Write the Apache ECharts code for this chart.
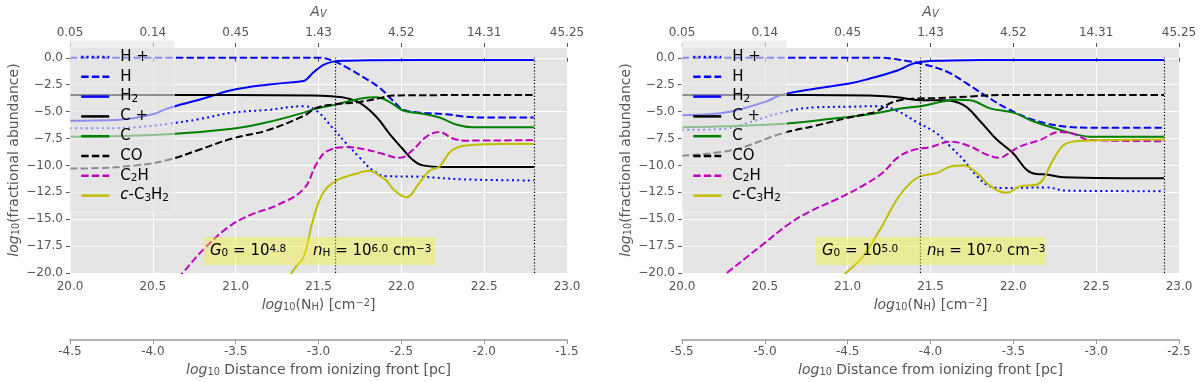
<!DOCTYPE html>
<html>
<head>
<meta charset="utf-8">
<script src="https://cdn.jsdelivr.net/npm/echarts/dist/echarts.min.js"></script>
<style>
html,body{margin:0;padding:0;background:#fff}
#chart{width:1200px;height:382px}
</style>
</head>
<body>
<div id="chart"></div>
<script>
// tick labels
var avLabels = ["0.05", "0.14", "0.45", "1.43", "4.52", "14.31", "45.25"];
var distRangeL = [-4.5, -1.5];
var distRangeR = [-5.5, -2.5];
var edgesL = [21.6, 22.8];
var edgesR = [21.44, 22.91];

// left panel : G0 = 10^4.8, nH = 10^6.0
var hPlusL = [[20,-6.55],[20.2,-6.55],[20.4,-6.45],[20.59,-6.15],[20.78,-5.7],[20.98,-5.1],[21.19,-4.85],[21.41,-4.5],[21.49,-4.95],[21.59,-6.6],[21.67,-8.0],[21.75,-9.3],[21.83,-10.5],[21.91,-11.0],[22.11,-11.05],[22.37,-11.3],[22.8,-11.4]];
var hL = [[20,0],[21.3,0],[21.51,0],[21.59,-0.3],[21.67,-0.9],[21.77,-1.8],[21.87,-2.8],[21.95,-4.0],[22.01,-4.8],[22.11,-5.1],[22.27,-5.25],[22.37,-5.45],[22.47,-5.55],[22.8,-5.55]];
var h2L = [[20,-5.85],[20.3,-5.75],[20.5,-5.25],[20.59,-4.7],[20.78,-3.9],[20.98,-3.0],[21.19,-2.5],[21.39,-2.2],[21.42,-2.1],[21.47,-1.35],[21.53,-0.66],[21.59,-0.36],[21.67,-0.27],[21.8,-0.22],[22.8,-0.2]];
var cPlusL = [[20,-3.45],[21.47,-3.5],[21.59,-3.6],[21.67,-3.75],[21.75,-4.2],[21.85,-5.5],[21.93,-7.1],[22.01,-8.5],[22.07,-9.5],[22.13,-10.0],[22.27,-10.15],[22.8,-10.15]];
var cL = [[20,-7.35],[20.59,-7.1],[20.98,-6.6],[21.19,-6.0],[21.41,-5.1],[21.49,-4.7],[21.59,-4.4],[21.75,-3.8],[21.85,-3.68],[21.95,-4.3],[22.01,-4.9],[22.13,-5.2],[22.23,-5.55],[22.33,-6.2],[22.43,-6.45],[22.8,-6.45]];
var coL = [[20,-10.3],[20.18,-10.25],[20.4,-10.0],[20.59,-9.5],[20.78,-8.55],[20.98,-7.5],[21.19,-6.75],[21.41,-5.4],[21.49,-4.65],[21.59,-4.35],[21.75,-4.1],[21.87,-3.75],[21.95,-3.5],[22.8,-3.45]];
var c2hL = [[20.65,-20.5],[20.68,-20],[20.8,-17.9],[20.95,-15.8],[21.09,-14.6],[21.25,-13.7],[21.41,-12.2],[21.49,-9.8],[21.55,-8.7],[21.67,-8.3],[21.79,-8.55],[21.87,-8.85],[21.99,-9.3],[22.07,-8.55],[22.15,-7.35],[22.23,-6.9],[22.31,-7.5],[22.39,-7.7],[22.8,-7.65]];
var c3h2L = [[21.3,-21],[21.35,-19.7],[21.41,-18.5],[21.47,-14.9],[21.53,-12.5],[21.61,-11.4],[21.71,-10.85],[21.81,-10.5],[21.87,-11.0],[21.91,-11.4],[21.95,-12.2],[22.03,-12.95],[22.11,-11.6],[22.17,-10.5],[22.23,-10.1],[22.31,-8.55],[22.43,-8.1],[22.8,-8.0]];

// right panel : G0 = 10^5.0, nH = 10^7.0
var hPlusR = [[20,-6.7],[20.2,-6.65],[20.31,-6.45],[20.41,-6.0],[20.6,-5.1],[20.81,-4.6],[21.01,-4.55],[21.19,-4.5],[21.3,-4.95],[21.42,-6.0],[21.54,-7.05],[21.62,-8.25],[21.7,-9.5],[21.78,-11.0],[21.86,-11.95],[21.94,-12.1],[22.2,-12.05],[22.32,-12.35],[22.91,-12.4]];
var hR = [[20,0],[21.19,0],[21.36,-0.3],[21.45,-0.57],[21.6,-1.3],[21.72,-2.4],[21.84,-3.6],[21.96,-4.7],[22.08,-5.55],[22.2,-6.1],[22.32,-6.4],[22.48,-6.5],[22.91,-6.5]];
var h2R = [[20,-5.35],[20.2,-5.2],[20.31,-4.95],[20.51,-4.05],[20.6,-3.45],[20.81,-2.85],[21.01,-2.4],[21.13,-1.95],[21.3,-1.18],[21.39,-0.57],[21.45,-0.36],[21.58,-0.27],[21.8,-0.2],[22.91,-0.2]];
var cPlusR = [[20,-3.45],[21.13,-3.5],[21.3,-3.68],[21.44,-3.95],[21.58,-3.95],[21.7,-4.4],[21.8,-5.9],[21.9,-7.6],[22.0,-8.9],[22.08,-10.4],[22.14,-10.8],[22.2,-10.85],[22.3,-11.1],[22.91,-11.2]];
var cR = [[20,-6.45],[20.6,-6.15],[20.94,-5.6],[21.13,-5.25],[21.33,-4.7],[21.44,-4.5],[21.58,-4.05],[21.66,-3.9],[21.74,-3.95],[21.86,-4.7],[22.0,-5.1],[22.12,-5.9],[22.24,-6.5],[22.36,-7.05],[22.48,-7.35],[22.91,-7.35]];
var coR = [[20,-9.1],[20.31,-8.55],[20.6,-7.05],[20.81,-6.3],[21.01,-5.55],[21.12,-5.2],[21.18,-4.95],[21.24,-4.35],[21.3,-4.0],[21.39,-3.8],[21.54,-3.75],[21.74,-3.6],[21.94,-3.45],[22.91,-3.45]];
var c2hR = [[20.22,-20.6],[20.27,-20],[20.5,-17.2],[20.65,-15.4],[20.77,-14.3],[20.94,-13.1],[21.09,-11.9],[21.21,-10.7],[21.3,-9.3],[21.39,-8.6],[21.5,-8.3],[21.62,-7.8],[21.74,-8.25],[21.84,-9.0],[21.92,-9.3],[21.96,-9.0],[22.04,-8.25],[22.16,-7.65],[22.28,-6.9],[22.36,-7.05],[22.46,-7.65],[22.91,-7.75]];
var c3h2R = [[20.97,-20.3],[20.99,-20],[21.09,-18.5],[21.19,-16.1],[21.3,-13.1],[21.38,-11.6],[21.44,-11.0],[21.54,-10.7],[21.62,-10.1],[21.7,-10.0],[21.78,-10.7],[21.86,-11.9],[21.96,-12.55],[22.04,-11.95],[22.14,-11.8],[22.18,-11.3],[22.24,-9.5],[22.32,-7.96],[22.44,-7.7],[22.91,-7.6]];

var FONT = "DejaVu Sans";
var GREY = "#555555";
var DOT = [2, 3.3];
var DASH = [7.4, 3.2];

var names = ["H +", "H", "H2", "C +", "C", "CO", "C2H", "c-C3H2"];
var legendText = {
  "H +": "H +", "H": "H", "H2": "H{s|2}", "C +": "C +", "C": "C", "CO": "CO",
  "C2H": "C{s|2}H", "c-C3H2": "{i|c}-C{s|3}H{s|2}"
};
var styles = [
  ["#0000FF", DOT], ["#0000FF", DASH], ["#0000FF", "solid"], ["#000000", "solid"],
  ["#008000", "solid"], ["#000000", DASH], ["#BF00BF", DASH], ["#BFBF00", "solid"]
];
var dataL = [hPlusL, hL, h2L, cPlusL, cL, coL, c2hL, c3h2L];
var dataR = [hPlusR, hR, h2R, cPlusR, cR, coR, c2hR, c3h2R];

function rich(size, color) {
  return {
    s: {fontSize: size * 0.7, lineHeight: size * 0.7, verticalAlign: "bottom", fontFamily: FONT, color: color},
    si: {fontSize: size * 0.7, lineHeight: size * 0.7, verticalAlign: "bottom", fontFamily: FONT, fontStyle: "italic", color: color},
    i: {fontSize: size, fontStyle: "italic", fontFamily: FONT, color: color},
    p: {fontSize: size * 0.7, lineHeight: size * 0.7, verticalAlign: "top", fontFamily: FONT, color: color}
  };
}

var grids = [
  {left: 70, width: 497, top: 41, height: 232, show: true, backgroundColor: "#E5E5E5", borderWidth: 0},
  {left: 682, width: 497, top: 41, height: 232, show: true, backgroundColor: "#E5E5E5", borderWidth: 0}
];

var xAxes = [], yAxes = [], series = [], legends = [];
[0, 1].forEach(function (g) {
  var dist = g == 0 ? distRangeL : distRangeR;
  xAxes.push({
    gridIndex: g, type: "value", min: 20, max: 23, interval: 0.5,
    axisLine: {show: false},
    axisTick: {show: true, length: 4, lineStyle: {color: GREY}},
    axisLabel: {color: GREY, fontSize: 12, fontFamily: FONT, margin: 8, formatter: function (v) { return v.toFixed(1); }},
    splitLine: {show: true, lineStyle: {color: "#FFFFFF", width: 1}},
    name: "{i|log}{s|10}(N{s|H}) [cm{p|\u22122}]", nameLocation: "middle", nameGap: 25,
    nameTextStyle: {color: GREY, fontSize: 14, fontFamily: FONT, rich: rich(14, GREY)}
  });
  xAxes.push({
    gridIndex: g, type: "value", position: "top", min: 20, max: 23, interval: 0.5,
    axisLine: {show: false},
    axisTick: {show: true, length: 4, lineStyle: {color: GREY}},
    axisLabel: {color: GREY, fontSize: 12, fontFamily: FONT, margin: 8, formatter: function (v) { return avLabels[Math.round((v - 20) / 0.5)]; }},
    splitLine: {show: false},
    name: "{i|A}{si|V}", nameLocation: "middle", nameGap: 28,
    nameTextStyle: {color: GREY, fontSize: 14, fontFamily: FONT, rich: rich(14, GREY)}
  });
  xAxes.push({
    gridIndex: g, type: "value", position: "bottom", offset: 67, min: dist[0], max: dist[1], interval: 0.5,
    axisLine: {show: true, lineStyle: {color: "#999999", width: 1.5}},
    axisTick: {show: true, length: 4, lineStyle: {color: "#999999"}},
    axisLabel: {color: GREY, fontSize: 12, fontFamily: FONT, margin: 6, formatter: function (v) { return v.toFixed(1); }},
    splitLine: {show: false},
    name: "{i|log}{s|10} Distance from ionizing front [pc]", nameLocation: "middle", nameGap: 23,
    nameTextStyle: {color: GREY, fontSize: 14, fontFamily: FONT, rich: rich(14, GREY)}
  });
  yAxes.push({
    gridIndex: g, type: "value", min: -20, max: 1, interval: 2.5,
    axisLine: {show: false},
    axisTick: {show: true, length: 4, lineStyle: {color: GREY}},
    axisLabel: {
      color: GREY, fontSize: 12, fontFamily: FONT, margin: 7, showMaxLabel: false,
      formatter: function (v) { return v > 0.5 ? "" : v.toFixed(1).replace("-", "\u2212"); }
    },
    splitLine: {show: true, lineStyle: {color: "#FFFFFF", width: 1}},
    name: "{i|log}{s|10}(fractional abundance)", nameLocation: "middle", nameGap: 49, nameRotate: 90,
    nameTextStyle: {color: GREY, fontSize: 14, fontFamily: FONT, rich: rich(14, GREY)}
  });

  var data = g == 0 ? dataL : dataR;
  names.forEach(function (n, k) {
    series.push({
      name: n, type: "line", xAxisIndex: g * 3, yAxisIndex: g, data: data[k],
      symbol: "none", smooth: 0.4, clip: true, z: 2 + k * 0.01,
      lineStyle: {color: styles[k][0], width: 2, type: styles[k][1]},
      itemStyle: {color: styles[k][0]}
    });
  });
  var edges = g == 0 ? edgesL : edgesR;
  series.push({
    type: "line", xAxisIndex: g * 3, yAxisIndex: g, data: [], silent: true,
    markLine: {
      silent: true, symbol: "none", label: {show: false}, animation: false,
      lineStyle: {color: "#000000", width: 1.2, type: [1.2, 2]},
      data: edges.map(function (e) { return [{coord: [e, -20]}, {coord: [e, 0]}]; })
    }
  });

  legends.push({
    data: names, orient: "vertical", left: grids[g].left, top: 41,
    padding: [8, 5, 9, 10], itemGap: 3.8, itemWidth: 28, itemHeight: 16,
    backgroundColor: "rgba(229,229,229,0.62)", borderColor: "rgba(240,240,240,0.9)", borderWidth: 1,
    selectedMode: false, lineStyle: {width: 2.5},
    itemStyle: {opacity: 0, borderWidth: 0},
    formatter: function (n) { return legendText[n]; },
    textStyle: {color: "#000000", fontSize: 15, fontFamily: FONT, width: 44, lineHeight: 16, padding: [0, 0, 0, 6], rich: rich(15, "#000000")}
  });
});

var boxRich = rich(15, "#000000");
function boxText(x, txt) {
  return {type: "text", x: x, y: 251, z: 11, style: {text: txt, fontSize: 15, fontFamily: FONT, fill: "#000000", verticalAlign: "middle", rich: boxRich}};
}

var chart = echarts.init(document.getElementById("chart"));
chart.setOption({
  animation: false,
  backgroundColor: "#FFFFFF",
  textStyle: {fontFamily: FONT},
  grid: grids,
  xAxis: xAxes,
  yAxis: yAxes,
  legend: legends,
  series: series,
  graphic: [
    {type: "rect", z: 10, shape: {x: 203, y: 237, width: 232, height: 28}, style: {fill: "rgba(240,240,60,0.45)"}},
    boxText(210, "{i|G}{s|0} = 10{p|4.8}"),
    boxText(313, "{i|n}{s|H} = 10{p|6.0} cm{p|\u22123}"),
    {type: "rect", z: 10, shape: {x: 816, y: 237, width: 229, height: 28}, style: {fill: "rgba(240,240,60,0.45)"}},
    boxText(822, "{i|G}{s|0} = 10{p|5.0}"),
    boxText(927, "{i|n}{s|H} = 10{p|7.0} cm{p|\u22123}")
  ]
});
</script>
</body>
</html>
